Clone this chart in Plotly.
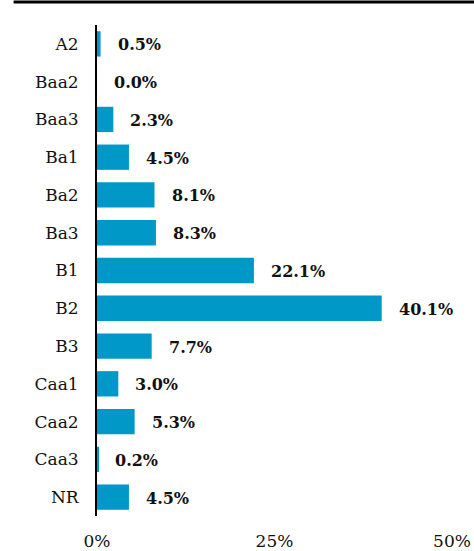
import plotly.graph_objects as go

ratings = ["A2", "Baa2", "Baa3", "Ba1", "Ba2", "Ba3", "B1", "B2", "B3",
           "Caa1", "Caa2", "Caa3", "NR"]
shares = [0.5, 0.0, 2.3, 4.5, 8.1, 8.3, 22.1, 40.1, 7.7, 3.0, 5.3, 0.2, 4.5]
x_ticks = [0, 25, 50]
x_tick_labels = ["0%", "25%", "50%"]

SERIF = "Georgia, 'DejaVu Serif', serif"

fig = go.Figure(go.Bar(
    x=shares,
    y=ratings,
    orientation="h",
    marker=dict(color="#0098C6", line=dict(width=0)),
    hoverinfo="skip",
))

# value labels sit a little past the end of each bar
for r, v in zip(ratings, shares):
    fig.add_annotation(
        x=v, y=r, text=f"<b>{v:.1f}%</b>", showarrow=False,
        xanchor="left", xshift=15, yshift=-1,
        font=dict(family=SERIF, size=16, color="#111111"),
    )

# heavy rule across the top
fig.add_shape(type="line", xref="paper", yref="paper",
              x0=-0.235, x1=1.08, y0=1.047, y1=1.047,
              line=dict(color="black", width=3))

fig.update_layout(
    width=474, height=551,
    margin=dict(l=97, r=22, t=25, b=35, autoexpand=False),
    plot_bgcolor="white", paper_bgcolor="white",
    bargap=0.33,
    showlegend=False,
    font=dict(family=SERIF, size=16, color="#111111"),
)
fig.update_xaxes(
    range=[0, 50], tickvals=x_ticks, ticktext=x_tick_labels,
    showgrid=False, zeroline=False, showline=False, automargin=False,
    ticks="outside", ticklen=10, tickcolor="rgba(0,0,0,0)",
    tickfont=dict(size=17),
)
fig.update_yaxes(
    categoryorder="array", categoryarray=ratings, autorange="reversed",
    showgrid=False, zeroline=False, automargin=False,
    showline=True, linecolor="black", linewidth=2,
    ticks="outside", ticklen=13, tickcolor="rgba(0,0,0,0)",
    tickfont=dict(size=17),
)

# drop the browser's default page margin so the figure sits at the corner
fig.write_html("out.html",
               config={"displayModeBar": False},
               post_script="document.body.style.margin='0';")
